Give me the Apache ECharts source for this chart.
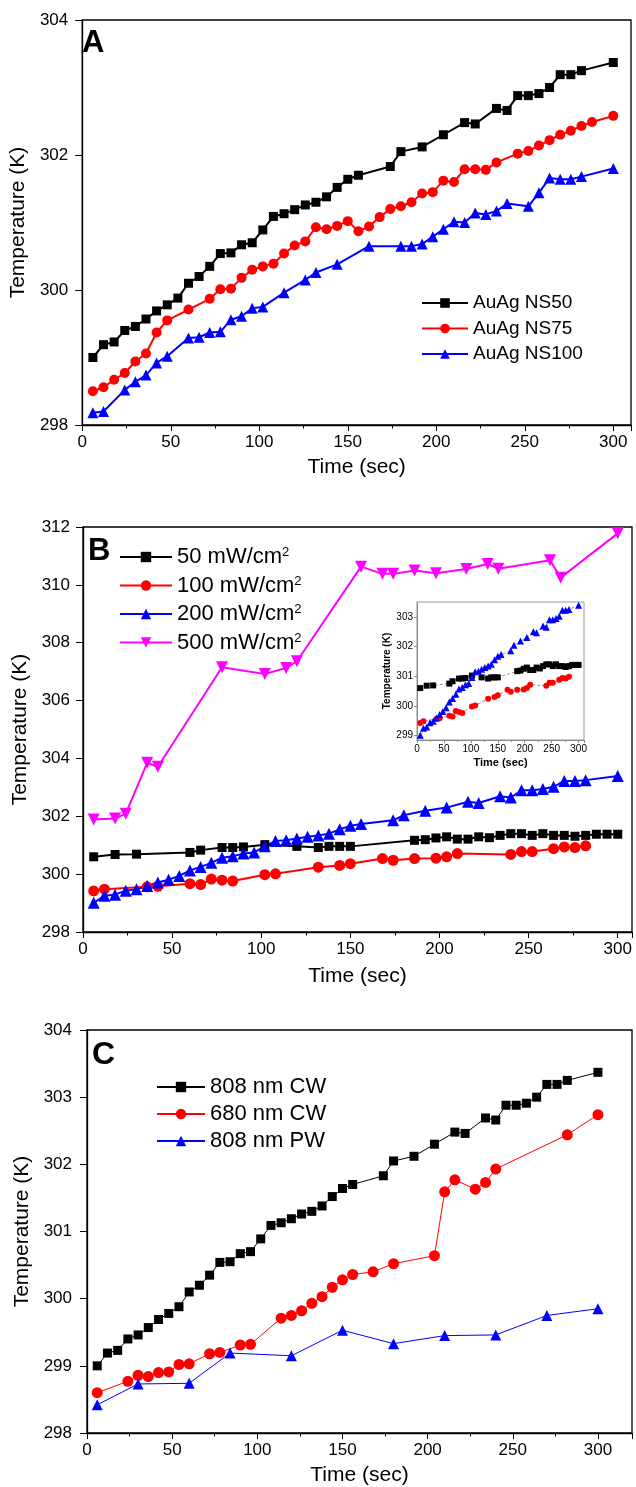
<!DOCTYPE html>
<html>
<head>
<meta charset="utf-8">
<title>Temperature vs time</title>
<script src="https://cdn.jsdelivr.net/npm/echarts@6/dist/echarts.min.js"></script>
<style>body{margin:0;background:#fff;}</style>
</head>
<body>
<div id="chart" style="width:636px;height:1487px;"></div>
<script>
// 808 nm CW / AuAg NS50 (same run in panels A and C)
var tCW808 = [6,12,18,24,30,36,42,48,54,60,66,72,78,84,90,96,102,108,114,120,126,132,138,144,150,156,174,180,192,204,216,222,234,240,246,252,258,264,270,276,282,300];
var vCW808 = [299.00,299.19,299.23,299.40,299.46,299.57,299.69,299.78,299.88,300.10,300.20,300.35,300.54,300.55,300.67,300.70,300.89,301.09,301.13,301.19,301.26,301.30,301.38,301.52,301.64,301.70,301.83,302.05,302.12,302.30,302.48,302.46,302.69,302.66,302.88,302.88,302.91,303.00,303.19,303.19,303.25,303.37];

// panel A
var tNS75 = [6,12,18,24,30,36,42,48,60,72,78,84,90,96,102,108,114,120,126,132,138,144,150,156,162,168,174,180,186,192,198,204,210,216,222,228,234,246,252,258,264,270,276,282,288,300];
var vNS75 = [298.50,298.56,298.67,298.77,298.94,299.06,299.37,299.55,299.71,299.87,300.01,300.02,300.18,300.30,300.35,300.39,300.54,300.66,300.72,300.93,300.90,300.95,301.02,300.87,300.94,301.08,301.20,301.24,301.30,301.43,301.45,301.62,301.60,301.79,301.79,301.78,301.89,302.02,302.06,302.14,302.22,302.30,302.36,302.43,302.49,302.58];
var tNS100 = [6,12,24,30,36,42,48,60,66,72,78,84,90,96,102,114,126,132,144,162,180,186,192,198,204,210,216,222,228,234,240,252,258,264,270,276,282,300];
var vNS100 = [298.18,298.20,298.52,298.64,298.74,298.92,299.02,299.29,299.30,299.37,299.38,299.56,299.61,299.73,299.75,299.96,300.15,300.26,300.38,300.65,300.65,300.65,300.68,300.79,300.90,301.01,301.00,301.14,301.12,301.17,301.28,301.24,301.44,301.66,301.64,301.64,301.68,301.80];

// panel B
var tP50 = [6,18,30,60,66,78,84,90,102,120,132,138,144,150,186,192,198,204,210,216,222,228,234,240,246,252,258,264,270,276,282,288,294,300];
var vP50 = [300.60,300.68,300.69,300.75,300.83,300.92,300.92,300.94,301.02,300.96,300.92,300.96,300.96,300.96,301.17,301.19,301.25,301.29,301.21,301.21,301.29,301.26,301.34,301.40,301.40,301.34,301.40,301.34,301.34,301.31,301.34,301.38,301.38,301.38];
var tP100 = [6,12,36,42,60,66,72,78,84,102,108,132,144,150,168,174,186,198,204,210,240,246,252,264,270,276,282];
var vP100 = [299.42,299.48,299.56,299.58,299.67,299.64,299.83,299.79,299.76,299.98,300.01,300.24,300.30,300.36,300.54,300.48,300.54,300.55,300.60,300.71,300.68,300.78,300.78,300.88,300.94,300.92,300.98];
var tP200 = [6,12,18,24,30,36,42,48,54,60,66,72,78,84,90,96,102,108,114,120,126,132,138,144,150,156,174,180,192,204,216,222,234,240,246,252,258,264,270,276,282,300];
var vP200 = [299.01,299.25,299.29,299.43,299.48,299.59,299.71,299.81,299.94,300.13,300.25,300.39,300.57,300.62,300.71,300.75,300.96,301.15,301.17,301.23,301.29,301.34,301.40,301.55,301.67,301.73,301.86,302.04,302.19,302.30,302.50,302.46,302.69,302.65,302.90,302.90,302.94,303.02,303.22,303.22,303.25,303.39];
var tP500 = [6,18,24,36,42,78,102,114,120,156,168,174,186,198,215,227,233,262,268,300];
var vP500 = [301.89,301.92,302.09,303.85,303.71,307.15,306.92,307.13,307.36,310.63,310.38,310.38,310.50,310.40,310.55,310.72,310.56,310.85,310.25,311.78];

// panel C
var tCW680 = [6,24,30,36,42,48,54,60,72,78,90,96,114,120,126,132,138,144,150,156,168,180,204,210,216,228,234,240,282,300];
var vCW680 = [298.60,298.77,298.86,298.84,298.90,298.91,299.02,299.03,299.18,299.20,299.31,299.32,299.71,299.75,299.82,299.93,300.03,300.17,300.28,300.36,300.40,300.52,300.64,301.59,301.77,301.63,301.73,301.93,302.44,302.74];
var tPW808 = [6,30,60,84,120,150,180,210,240,270,300];
var vPW808 = [298.42,298.73,298.74,299.19,299.15,299.53,299.33,299.45,299.46,299.75,299.85];

var namesA = ['AuAg NS50', 'AuAg NS75', 'AuAg NS100'];
var namesB = ['50 mW/cm2', '100 mW/cm2', '200 mW/cm2', '500 mW/cm2'];
var namesC = ['808 nm CW', '680 nm CW', '808 nm PW'];

var F = '"Liberation Sans", Arial, sans-serif';

function pairs(t, v) {
	var out = [];
	for (var i = 0; i < t.length; i++) out.push([t[i], v[i]]);
	return out;
}

function xAx(g, max, gap, small) {
	return {
		type: 'value', gridIndex: g, min: 0, max: max, interval: 50,
		name: 'Time (sec)', nameLocation: 'middle', nameGap: small ? 17 : gap,
		nameTextStyle: {fontSize: small ? 11 : 21, fontWeight: small ? 'bold' : 'normal', color: '#000', fontFamily: F},
		axisLine: {show: true, onZero: false, lineStyle: {color: small ? '#888' : '#000', width: small ? 1 : 1.3}},
		axisTick: {show: true, length: small ? 3 : 6, lineStyle: {color: small ? '#888' : '#000'}},
		minorTick: {show: true, splitNumber: 2, length: small ? 2 : 3.5, lineStyle: {color: small ? '#888' : '#000'}},
		axisLabel: {fontSize: small ? 10 : 17, color: '#000', margin: small ? 4 : 9, showMaxLabel: false, fontFamily: F},
		splitLine: {show: false}
	};
}

function yAx(g, min, max, interval, gap, margin) {
	return {
		type: 'value', gridIndex: g, min: min, max: max, interval: interval,
		name: 'Temperature (K)', nameLocation: 'middle', nameGap: gap,
		nameTextStyle: {fontSize: 21, color: '#000', fontFamily: F},
		axisLine: {show: true, onZero: false, lineStyle: {color: '#000', width: 1.3}},
		axisTick: {show: true, length: 7, lineStyle: {color: '#000'}},
		axisLabel: {fontSize: 17, color: '#000', margin: margin, fontFamily: F},
		splitLine: {show: false}
	};
}

function line(name, g, t, v, color, symbol, size, width, extra) {
	var s = {
		name: name, type: 'line', xAxisIndex: g, yAxisIndex: g,
		data: pairs(t, v), symbol: symbol, symbolSize: size, showSymbol: true,
		lineStyle: {color: color, width: width},
		itemStyle: {color: color},
		animation: false
	};
	for (var k in extra) s[k] = extra[k];
	return s;
}

var chart = echarts.init(document.getElementById('chart'));

var insetLine = {lineStyle: {color: '#777', width: 0.8, type: [3, 2]}};

var option = {
	backgroundColor: '#fff',
	animation: false,
	title: [
		{text: 'A', left: 82, top: 28, padding: 0, textStyle: {fontSize: 31, fontWeight: 'bold', color: '#000', fontFamily: F}},
		{text: 'B', left: 88, top: 536, padding: 0, textStyle: {fontSize: 31, fontWeight: 'bold', color: '#000', fontFamily: F}},
		{text: 'C', left: 92, top: 1039, padding: 0, textStyle: {fontSize: 32, fontWeight: 'bold', color: '#000', fontFamily: F}}
	],
	legend: [
		{data: namesA, orient: 'vertical', left: 421, top: 293, padding: 0, itemWidth: 46, itemHeight: 12, itemGap: 5.5,
			textStyle: {fontSize: 19, lineHeight: 20, color: '#000', fontFamily: F}},
		{data: namesB, orient: 'vertical', left: 119, top: 546, padding: 0, itemWidth: 52, itemHeight: 13, itemGap: 6.5,
			formatter: function (n) { return n.replace('cm2', 'cm{sup|2}'); },
			textStyle: {fontSize: 22, lineHeight: 22, color: '#000', fontFamily: F,
				rich: {sup: {fontSize: 13, lineHeight: 13, verticalAlign: 'top', color: '#000', fontFamily: F}}}},
		{data: namesC, orient: 'vertical', left: 156, top: 1076, padding: 0, itemWidth: 48, itemHeight: 13, itemGap: 5,
			textStyle: {fontSize: 22, lineHeight: 22, color: '#000', fontFamily: F}}
	],
	grid: [
		{left: 79, top: 20, width: 552, height: 405, show: true, borderColor: '#000', borderWidth: 1.3},
		{left: 83, top: 527, width: 549, height: 405, show: true, borderColor: '#000', borderWidth: 1.3},
		{left: 417, top: 602, width: 167, height: 138, show: true, borderColor: '#999', borderWidth: 1},
		{left: 87, top: 1030, width: 545, height: 403, show: true, borderColor: '#000', borderWidth: 1.3}
	],
	xAxis: [
		xAx(0, 310, 32),
		xAx(1, 308, 34),
		xAx(2, 310, 0, true),
		xAx(3, 320, 32)
	],
	yAxis: [
		yAx(0, 298, 304, 2, 46, 14),
		yAx(1, 298, 312, 2, 50, 13),
		{
			type: 'value', gridIndex: 2, min: 298.85, max: 303.5, splitNumber: 5,
			name: 'Temperature (K)', nameLocation: 'middle', nameGap: 21,
			nameTextStyle: {fontSize: 10, fontWeight: 'bold', color: '#000', fontFamily: F},
			axisLine: {show: true, onZero: false, lineStyle: {color: '#888'}},
			axisTick: {show: true, length: 3, lineStyle: {color: '#888'}},
			axisLabel: {fontSize: 10, color: '#000', margin: 4, showMinLabel: false, showMaxLabel: false, fontFamily: F},
			splitLine: {show: false}
		},
		yAx(3, 298, 304, 1, 52, 15)
	],
	series: [
		line(namesA[0], 0, tCW808, vCW808, '#000', 'rect', 9, 2),
		line(namesA[1], 0, tNS75, vNS75, '#ff0000', 'circle', 10, 2),
		line(namesA[2], 0, tNS100, vNS100, '#0000ff', 'triangle', 11, 2),

		line(namesB[0], 1, tP50, vP50, '#000', 'rect', 9, 2),
		line(namesB[1], 1, tP100, vP100, '#ff0000', 'circle', 11, 2),
		line(namesB[2], 1, tP200, vP200, '#0000ff', 'triangle', 12, 2),
		line(namesB[3], 1, tP500, vP500, '#ff00ff', 'triangle', 12, 2, {symbolRotate: 180}),

		line('inset 50', 2, tP50, vP50, '#000', 'rect', 6, 1, insetLine),
		line('inset 100', 2, tP100, vP100, '#ff0000', 'circle', 6, 1, insetLine),
		line('inset 200', 2, tP200, vP200, '#0000ff', 'triangle', 7, 1, insetLine),

		line(namesC[0], 3, tCW808, vCW808, '#000', 'rect', 9, 1),
		line(namesC[1], 3, tCW680, vCW680, '#ff0000', 'circle', 11, 1),
		line(namesC[2], 3, tPW808, vPW808, '#0000ff', 'triangle', 11, 1)
	]
};

chart.setOption(option);
</script>
</body>
</html>
